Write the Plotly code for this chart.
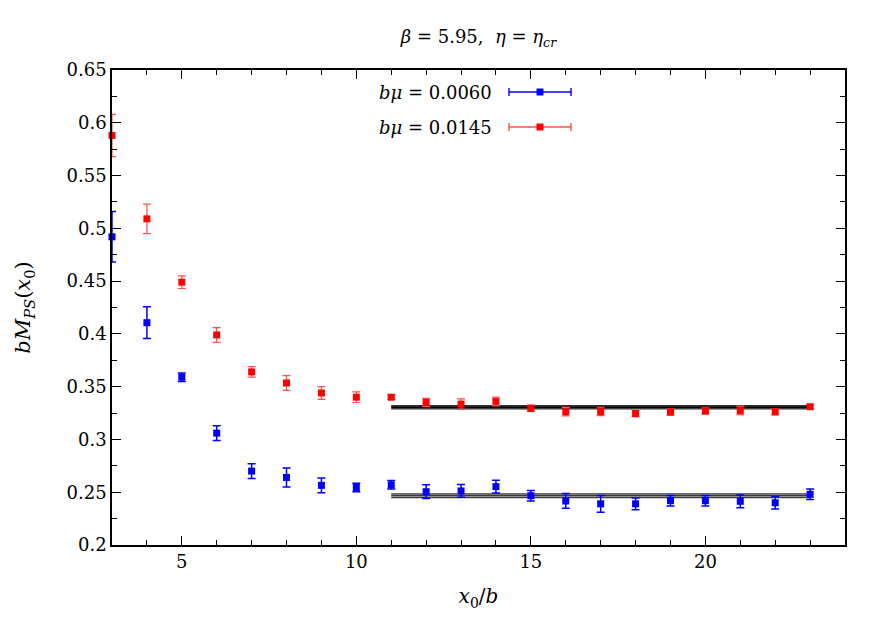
import plotly.graph_objects as go

# ---- data ----
x_vals = list(range(3, 24))

blue_label = "<i>bμ</i> = 0.0060"
blue_y = [0.492, 0.4106, 0.359, 0.306, 0.270, 0.264, 0.2565, 0.2545, 0.257, 0.2505,
          0.2512, 0.2553, 0.2467, 0.2417, 0.239, 0.239, 0.242, 0.242, 0.2414, 0.240, 0.248]
blue_err = [0.024, 0.015, 0.004, 0.007, 0.007, 0.009, 0.007, 0.004, 0.004, 0.0065,
            0.006, 0.006, 0.005, 0.007, 0.008, 0.0055, 0.005, 0.005, 0.006, 0.006, 0.005]

red_label = "<i>bμ</i> = 0.0145"
red_y = [0.588, 0.509, 0.449, 0.399, 0.364, 0.3535, 0.344, 0.340, 0.340, 0.335,
         0.3335, 0.336, 0.3295, 0.3263, 0.3265, 0.3245, 0.326, 0.327, 0.3275, 0.3263, 0.331]
red_err = [0.020, 0.014, 0.006, 0.007, 0.005, 0.007, 0.006, 0.005, 0.002, 0.004,
           0.005, 0.004, 0.003, 0.004, 0.004, 0.003, 0.003, 0.003, 0.004, 0.003, 0.002]

fit_x = [11, 23]
blue_fit = 0.2467
blue_fit_err = 0.0018
red_fit = 0.3305
red_fit_err = 0.0015

BLUE = "#0000ff"
RED = "#ff0000"
RED_ERR = "#ff5050"
FONT = "DejaVu Serif"

fig = go.Figure()


def add_band(center, err, edge_color, center_color, center_width):
    lo = [center - err] * len(fit_x)
    hi = [center + err] * len(fit_x)
    fig.add_trace(go.Scatter(x=fit_x, y=lo, mode="lines",
                             line=dict(color=edge_color, width=1.2),
                             showlegend=False, hoverinfo="skip"))
    fig.add_trace(go.Scatter(x=fit_x, y=hi, mode="lines", fill="tonexty",
                             fillcolor="rgba(150,150,150,0.8)",
                             line=dict(color=edge_color, width=1.2),
                             showlegend=False, hoverinfo="skip"))
    fig.add_trace(go.Scatter(x=fit_x, y=[center] * len(fit_x), mode="lines",
                             line=dict(color=center_color, width=center_width),
                             showlegend=False, hoverinfo="skip"))


add_band(red_fit, red_fit_err, "#303030", "#000000", 2.2)
add_band(blue_fit, blue_fit_err, "#404040", "#202020", 1.0)

fig.add_trace(go.Scatter(
    x=x_vals, y=blue_y, mode="markers", name=blue_label,
    marker=dict(symbol="square", size=7, color=BLUE),
    error_y=dict(type="data", array=blue_err, visible=True, color=BLUE,
                 thickness=1.5, width=4),
    cliponaxis=False, showlegend=False))

fig.add_trace(go.Scatter(
    x=x_vals, y=red_y, mode="markers", name=red_label,
    marker=dict(symbol="square", size=7, color=RED),
    error_y=dict(type="data", array=red_err, visible=True, color=RED_ERR,
                 thickness=1.2, width=4),
    cliponaxis=False, showlegend=False))

# ---- manual legend (paper coordinates) ----
W, H = 886, 620
ml, mr, mt, mb = 112, 41, 70, 75
pw, ph = W - ml - mr, H - mt - mb


def px(xp):
    return (xp - ml) / pw


def py(yp):
    return 1 - (yp - mt) / ph


shapes = []
annotations = []
for label, col, ecol, yp in [(blue_label, BLUE, BLUE, 92), (red_label, RED, RED_ERR, 127)]:
    annotations.append(dict(x=px(494), y=py(yp), xref="paper", yref="paper",
                            text=label, showarrow=False, xanchor="right", yanchor="middle",
                            font=dict(family=FONT, size=18, color="black")))
    shapes.append(dict(type="line", xref="paper", yref="paper",
                       x0=px(509), x1=px(571), y0=py(yp), y1=py(yp),
                       line=dict(color=ecol, width=1.4)))
    for xc in (509, 571):
        shapes.append(dict(type="line", xref="paper", yref="paper",
                           x0=px(xc), x1=px(xc), y0=py(yp - 4), y1=py(yp + 4),
                           line=dict(color=ecol, width=1.4)))
    shapes.append(dict(type="rect", xref="paper", yref="paper",
                       x0=px(536.5), x1=px(543.5), y0=py(yp - 3.5), y1=py(yp + 3.5),
                       fillcolor=col, line=dict(width=0)))

fig.update_layout(
    width=W, height=H,
    margin=dict(l=ml, r=mr, t=mt, b=mb),
    paper_bgcolor="white", plot_bgcolor="white",
    font=dict(family=FONT, size=18, color="black"),
    title=dict(text="<i>β</i> = 5.95,  <i>η</i> = <i>η</i><sub><i>cr</i></sub>",
               x=(ml + pw / 2) / W, xanchor="center", y=1 - 37 / H, yanchor="middle",
               font=dict(family=FONT, size=18)),
    shapes=shapes, annotations=annotations,
    showlegend=False,
)

fig.update_xaxes(
    range=[3, 24], tickmode="array", tickvals=[5, 10, 15, 20],
    ticks="inside", ticklen=9, tickwidth=1, tickcolor="black",
    minor=dict(tickmode="linear", tick0=3, dtick=1, ticks="inside", ticklen=5,
               tickcolor="black", tickwidth=1),
    showline=True, linecolor="black", linewidth=1.5, mirror="ticks",
    showgrid=False, zeroline=False,
    title=dict(text="<i>x</i><sub>0</sub>/<i>b</i>", font=dict(family=FONT, size=20), standoff=18),
    tickfont=dict(family=FONT, size=18),
)
fig.update_yaxes(
    range=[0.2, 0.65], tickmode="linear", tick0=0.2, dtick=0.05,
    tickformat="~g",
    ticks="inside", ticklen=9, tickwidth=1, tickcolor="black",
    minor=dict(tickmode="linear", tick0=0.2, dtick=0.025, ticks="inside", ticklen=5,
               tickcolor="black", tickwidth=1),
    showline=True, linecolor="black", linewidth=1.5, mirror="ticks",
    showgrid=False, zeroline=False,
    title=dict(text="<i>bM</i><sub><i>PS</i></sub>(<i>x</i><sub>0</sub>)",
               font=dict(family=FONT, size=21), standoff=30),
    tickfont=dict(family=FONT, size=18),
)

fig.write_html("out.html")
